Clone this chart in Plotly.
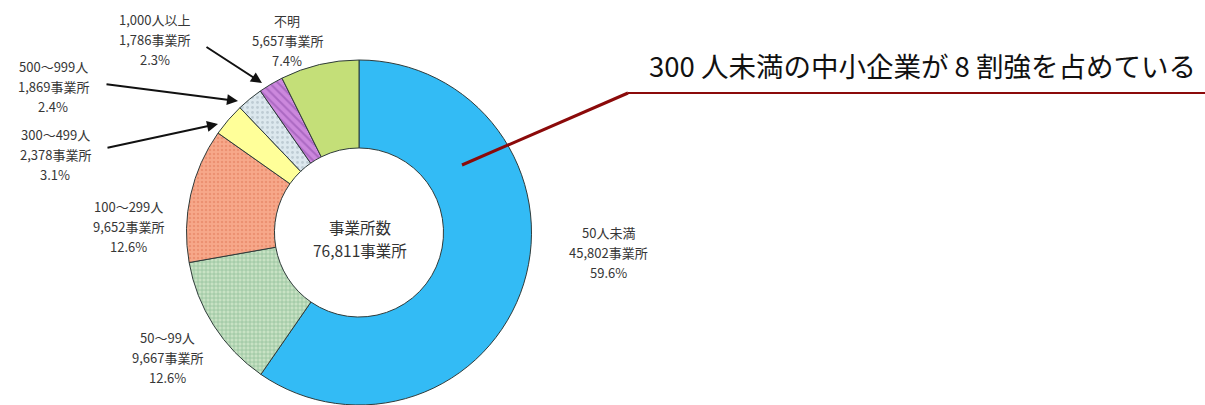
import plotly.graph_objects as go

W, H = 1205, 405

categories = ["50人未満", "50～99人", "100～299人", "300～499人", "500～999人", "1,000人以上", "不明"]
counts = [45802, 9667, 9652, 2378, 1869, 1786, 5657]
percents = ["59.6%", "12.6%", "12.6%", "3.1%", "2.4%", "2.3%", "7.4%"]
total_title = "事業所数"
total_label = "76,811事業所"
headline = "300 人未満の中小企業が 8 割強を占めている"

colors = ["#33BBF5", "#C8E2C4", "#F7A88A", "#FFFF99", "#DCE8EE", "#CC88DD", "#C4DF78"]
pat_shapes = ["", "+", ".", "", ".", "\\", ""]
pat_fg = ["#33BBF5", "#5FA070", "#E07A5A", "#FFFF99", "#9FB0BA", "#8A4AA8", "#C4DF78"]
pat_size = [8, 4, 4, 8, 5, 6, 8]
pat_sol = [0.3, 0.35, 0.3, 0.3, 0.25, 0.35, 0.3]


def px(x, y):
    return x / W, 1 - y / H


fig = go.Figure()

cx, cy, r = 359, 233, 173
x0, _ = px(cx - r, 0)
x1, _ = px(cx + r, 0)
_, ytop = px(0, cy - r)

fig.add_trace(go.Pie(
    labels=categories,
    values=counts,
    sort=False,
    direction="clockwise",
    rotation=0,
    hole=0.49,
    textinfo="none",
    hoverinfo="label+value+percent",
    showlegend=False,
    domain=dict(x=[x0, x1], y=[0.0, ytop]),
    marker=dict(
        colors=colors,
        line=dict(color="#2F3B3A", width=1),
        pattern=dict(shape=pat_shapes, fgcolor=pat_fg, bgcolor=colors,
                     size=pat_size, solidity=pat_sol, fillmode="overlay"),
    ),
))

label_pos = [(608, 232), (167, 337), (128, 206), (55, 135), (53, 67), (155, 19), (287, 21)]
lab_font = dict(family="Noto Sans CJK JP", size=13, color="#363636")
for cat, cnt, pct, (lx, ly) in zip(categories, counts, percents, label_pos):
    for i, line in enumerate([cat, f"{cnt:,}事業所", pct]):
        ax_, ay_ = px(lx, ly + 20 * i)
        fig.add_annotation(
            x=ax_, y=ay_, xref="paper", yref="paper", showarrow=False,
            text=line, font=lab_font,
            align="center", xanchor="center", yanchor="middle",
        )

# center label
for i, line in enumerate([total_title, total_label]):
    tx, ty = px(cx + 1, 227 + 23 * i)
    fig.add_annotation(x=tx, y=ty, xref="paper", yref="paper", showarrow=False,
                       text=line, xanchor="center", yanchor="middle",
                       font=dict(family="Noto Sans CJK JP", size=15.5, color="#333333"),
                       align="center")

# arrows for small slices
arrows = [((205, 46), (262, 83)), ((105, 84), (238, 101)), ((106, 148), (218, 124))]
for (sx, sy), (ex, ey) in arrows:
    hx, hy = px(ex, ey)
    fig.add_annotation(x=hx, y=hy, xref="paper", yref="paper",
                       ax=sx - ex, ay=sy - ey,
                       showarrow=True, arrowhead=2, arrowsize=1.1, arrowwidth=2,
                       arrowcolor="#111111", text="")

# callout line
p1 = px(462, 165)
p2 = px(628, 93)
p3 = px(1205, 93)
fig.add_shape(type="line", xref="paper", yref="paper", x0=p1[0], y0=p1[1], x1=p2[0], y1=p2[1],
              line=dict(color="#8B0A0A", width=3))
fig.add_shape(type="line", xref="paper", yref="paper", x0=p2[0], y0=p2[1], x1=p3[0], y1=p3[1],
              line=dict(color="#8B0A0A", width=2))

hx, hy = px(647, 65)
fig.add_annotation(x=hx, y=hy, xref="paper", yref="paper", showarrow=False,
                   text=headline, xanchor="left", yanchor="middle",
                   font=dict(family="Noto Sans CJK JP", size=27.5, color="#111111"))

fig.update_layout(width=W, height=H, margin=dict(l=0, r=0, t=0, b=0),
                  paper_bgcolor="white", plot_bgcolor="white")

fig.write_html("out.html")
